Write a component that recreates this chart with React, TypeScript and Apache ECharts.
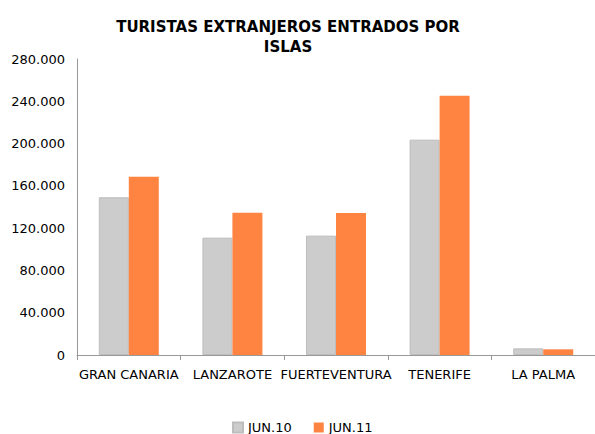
import React, { useEffect, useRef } from "react";
import * as echarts from "echarts";

const categories = ["GRAN CANARIA", "LANZAROTE", "FUERTEVENTURA", "TENERIFE", "LA PALMA"];
const jun10 = [149200, 111000, 112900, 203700, 6300];
const jun11 = [168700, 134600, 134300, 245300, 5400];
const seriesNames = ["JUN.10", "JUN.11"];

const fmt = (v: number) => {
  if (v === 0) return "0";
  const s = String(Math.round(v));
  return s.replace(/\B(?=(\d{3})+(?!\d))/g, ".");
};

export default function App() {
  const ref = useRef<HTMLDivElement>(null);
  useEffect(() => {
    if (!ref.current) return;
    const chart = echarts.init(ref.current, undefined, { renderer: "svg" });
    const font = "Verdana, 'DejaVu Sans', sans-serif";
    chart.setOption({
      animation: false,
      backgroundColor: "#ffffff",
      title: {
        text: "TURISTAS EXTRANJEROS ENTRADOS POR\nISLAS",
        left: 283,
        textAlign: "center",
        top: 12,
        textStyle: { fontFamily: font, fontWeight: "bold", fontSize: 15, color: "#000", lineHeight: 20 },
      },
      legend: {
        top: 416,
        left: 227,
        itemWidth: 10,
        itemHeight: 10,
        itemGap: 22,
        icon: "rect",
        textStyle: { fontFamily: font, fontSize: 13, color: "#000" },
        data: seriesNames,
      },
      grid: { left: 77, right: -2, top: 59, bottom: 79, containLabel: false },
      xAxis: {
        type: "category",
        data: categories,
        axisLine: { lineStyle: { color: "#999" } },
        axisTick: { show: true, length: 5, alignWithLabel: false, lineStyle: { color: "#999" } },
        axisLabel: { fontFamily: font, fontSize: 13, color: "#000", margin: 13, interval: 0 },
      },
      yAxis: {
        type: "value",
        min: 0,
        max: 280000,
        interval: 40000,
        axisLine: { show: true, lineStyle: { color: "#999" } },
        axisTick: { show: false },
        splitLine: { show: false },
        axisLabel: { fontFamily: font, fontSize: 13, color: "#000", margin: 12, formatter: fmt },
      },
      series: [
        {
          name: seriesNames[0],
          type: "bar",
          data: jun10,
          barWidth: 30,
          barGap: "0%",
          itemStyle: { color: "#cccccc", borderColor: "#bdbdbd", borderWidth: 1 },
        },
        {
          name: seriesNames[1],
          type: "bar",
          data: jun11,
          barWidth: 30,
          itemStyle: { color: "#ff8442" },
        },
      ],
    });
    return () => chart.dispose();
  }, []);
  return <div ref={ref} style={{ width: 595, height: 434, position: "absolute", left: 0, top: 0 }} />;
}
